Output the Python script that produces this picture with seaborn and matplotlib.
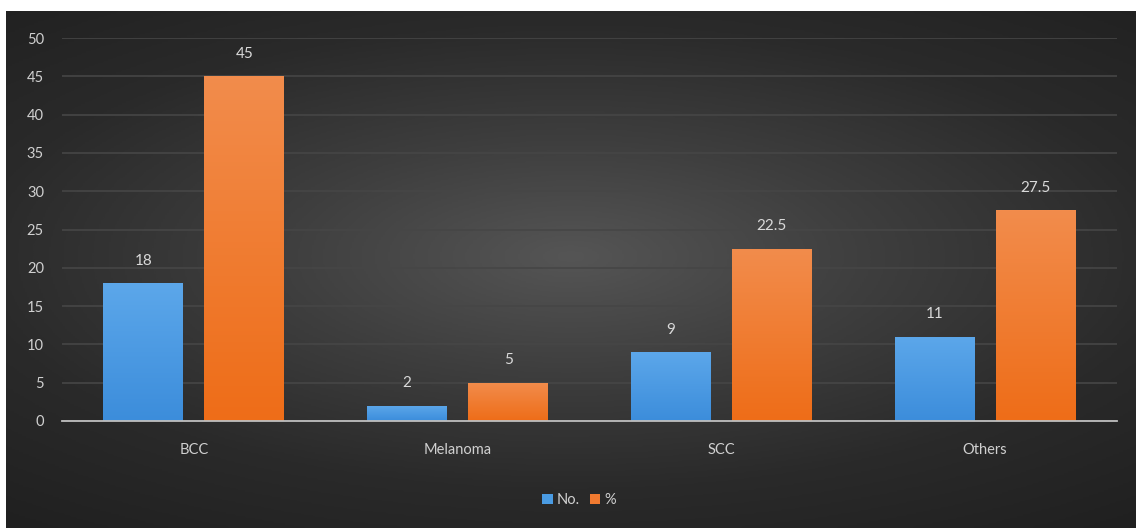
import numpy as np
import pandas as pd
import matplotlib.pyplot as plt
import seaborn as sns
from matplotlib.colors import LinearSegmentedColormap

# Chart data
categories = ['BCC', 'Melanoma', 'SCC', 'Others']
count_values = [18, 2, 9, 11]
percent_values = [45, 5, 22.5, 27.5]
series_names = ['No.', '%']
y_ticks = [0, 5, 10, 15, 20, 25, 30, 35, 40, 45, 50]

df = pd.DataFrame({
    'type': categories * 2,
    'series': [series_names[0]] * len(categories) + [series_names[1]] * len(categories),
    'value': count_values + percent_values,
})

sns.set_style('dark')
plt.rcParams['font.family'] = ['Lato', 'DejaVu Sans']

W, H = 1136, 528
fig = plt.figure(figsize=(W / 100, H / 100), dpi=100, facecolor='white')

# dark radial background (white strip at top and left like the screenshot)
bg = fig.add_axes([6 / W, 0, 1 - 6 / W, 1 - 11 / H])
yy, xx = np.mgrid[-1:1:300j, -1:1:600j]
r = np.sqrt((xx * 0.85) ** 2 + ((yy + 0.05) * 1.0) ** 2)
bg_cmap = LinearSegmentedColormap.from_list('bg', ['#555555', '#3e3e3e', '#2a2a2a', '#202020'])
bg.imshow(r, cmap=bg_cmap, aspect='auto', extent=[0, 1, 0, 1], vmin=0, vmax=1.35)
bg.axis('off')

ax = fig.add_axes([62 / W, 1 - 421 / H, (1117 - 62) / W, (421 - 38) / H])
ax.patch.set_alpha(0)

sns.barplot(data=df, x='type', y='value', hue='series', palette=['#4a9be2', '#f07a30'],
            width=0.766, gap=0.21, ax=ax, saturation=1, linewidth=0)

# vertical gradient fill on the bars
grads = {0: ['#3c8ddb', '#5ca7ea'], 1: ['#ee6d18', '#f28c4c']}
for i, cont in enumerate(ax.containers):
    cmap = LinearSegmentedColormap.from_list('g%d' % i, grads[i])
    for bar in cont:
        x0, y0 = bar.get_x(), bar.get_y()
        w, h = bar.get_width(), bar.get_height()
        im = ax.imshow(np.linspace(1, 0, 100).reshape(-1, 1), cmap=cmap, aspect='auto',
                       extent=[x0, x0 + w, y0, y0 + h], zorder=bar.get_zorder() + 0.1)
        im.set_clip_path(bar)
    labels = ['%g' % v for v in (count_values if i == 0 else percent_values)]
    ax.bar_label(cont, labels=labels, padding=11, color='#d9d9d9', fontsize=11, zorder=5)

ax.set_xlim(-0.5, 3.5)
ax.set_ylim(0, 50)
ax.set_yticks(y_ticks)
ax.set_xlabel('')
ax.set_ylabel('')
ax.grid(axis='y', color='#464646', linewidth=1.2)
ax.grid(axis='x', visible=False)
for s in ['top', 'right', 'left']:
    ax.spines[s].set_visible(False)
ax.spines['bottom'].set_color('#bfbfbf')
ax.spines['bottom'].set_linewidth(1.3)
ax.spines['bottom'].set_zorder(6)
ax.tick_params(axis='y', colors='#d0d0d0', labelsize=10.5, length=0, pad=13)
ax.tick_params(axis='x', colors='#d0d0d0', labelsize=10.5, length=0, pad=16)

handles, _ = ax.get_legend_handles_labels()
ax.legend(handles, series_names, loc='center', bbox_to_anchor=(0.51, 0.053),
          bbox_transform=fig.transFigure, ncol=2, frameon=False, handlelength=0.7,
          handleheight=0.7, labelcolor='#d0d0d0', fontsize=10.5, columnspacing=0.7,
          handletextpad=0.3)

fig.savefig('out.png', dpi=100, facecolor=fig.get_facecolor())
